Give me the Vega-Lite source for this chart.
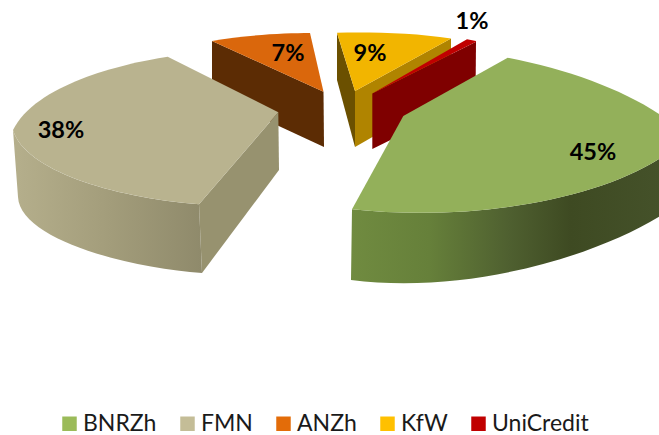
{
"$schema":"https://vega.github.io/schema/vega-lite/v6.json",
"width":659,"height":435,"padding":0,"autosize":{"type":"none"},
"background":"white",
"config":{"view":{"stroke":null}},
"data":{"values":[
{"name":"BNRZh","share":0.45},
{"name":"FMN","share":0.38},
{"name":"ANZh","share":0.07},
{"name":"KfW","share":0.09},
{"name":"UniCredit","share":0.01}
]},
"resolve":{"scale":{"shape":"independent","fill":"independent","color":"independent","x":"independent","y":"independent"}},
"layer":[
{"mark":{"type":"point","filled":true,"size":0,"opacity":1},
 "encoding":{"color":{"field":"name","type":"nominal","scale":{"domain":["BNRZh","FMN","ANZh","KfW","UniCredit"],"range":["#9BBB59","#C4BD97","#E36C09","#FFC000","#C00000"]},
  "legend":{"title":null,"orient":"none","legendX":58,"legendY":412,"direction":"horizontal","symbolType":"square","symbolSize":210,"symbolOpacity":1,"symbolStrokeWidth":0,"labelFont":"Lato","labelFontSize":23,"labelColor":"#1a1a1a","labelOffset":2,"columnPadding":19,"labelLimit":200}}}},
{"transform":[{"filter":{"field":"name","oneOf":["ANZh","KfW"]}}],
 "mark":{"type":"point","filled":true,"size":4,"opacity":1,"strokeWidth":0},
 "encoding":{
  "shape":{"field":"name","type":"nominal","legend":null,"scale":{"domain":["ANZh","KfW"],"range":["M-117.5,-176.5L-6,-125.8L-5.5,-70.5L-117.5,-122.5Z","M7.5,-184.5L25.5,-126.5L25.5,-70.5L7.5,-137.5Z"]}},
  "fill":{"field":"name","type":"nominal","legend":null,"scale":{"domain":["ANZh","KfW"],"range":["#5C2C04","#6B5000"]}}}},
{"transform":[{"filter":{"field":"name","oneOf":["ANZh","KfW","UniCredit"]}}],
 "mark":{"type":"point","filled":true,"size":4,"opacity":1,"strokeWidth":0},
 "encoding":{
  "shape":{"field":"name","type":"nominal","legend":null,"scale":{"domain":["ANZh","KfW","UniCredit"],"range":["M-117.5,-176.5C-84.5,-182.5 -44.5,-184.5 -19.5,-184.5L-6,-125.8Z","M25.5,-126.5L121.5,-179L121.5,-125.5L25.5,-70.5Z","M42.8,-124L146.5,-175.8L146,-119.5L42.8,-68.5Z"]}},
  "fill":{"field":"name","type":"nominal","legend":null,"scale":{"domain":["ANZh","KfW","UniCredit"],"range":["#DA670C","#B08400","#7F0000"]}},
  "order":{"field":"share","sort":"descending"}}},
{"transform":[{"filter":{"field":"name","oneOf":["KfW","UniCredit"]}}],
 "mark":{"type":"point","filled":true,"size":4,"opacity":1,"strokeWidth":0},
 "encoding":{
  "shape":{"field":"name","type":"nominal","legend":null,"scale":{"domain":["KfW","UniCredit"],"range":["M7.5,-184.8C45.5,-185.5 85.5,-184.5 121.5,-179L25.5,-126.5Z","M42.8,-124L137.5,-178.2L146.5,-176.5L146.5,-175.8Z"]}},
  "fill":{"field":"name","type":"nominal","legend":null,"scale":{"domain":["KfW","UniCredit"],"range":["#F2B500","#C00000"]}}}},
{"transform":[{"filter":{"field":"name","equal":"FMN"}}],
 "mark":{"type":"point","filled":true,"size":4,"opacity":1,"strokeWidth":0,"fill":"#97926F","shape":"M-51.2,-105.2L-50.5,-47.5L-127.5,55.5L-130.5,-13.2Z"}},
{"transform":[{"filter":{"field":"name","equal":"FMN"}}],
 "mark":{"type":"point","filled":true,"size":4,"opacity":1,"strokeWidth":0,
  "fill":{"gradient":"linear","x1":0,"x2":1,"y1":0,"y2":0,"stops":[{"offset":0,"color":"#B5AF8C"},{"offset":0.5,"color":"#A39D7B"},{"offset":1,"color":"#8F8A6B"}]},
  "shape":"M-316.5,-87.5C-304.5,-47.5 -219.5,-20.5 -130.5,-13.2L-127.5,55.5C-199.5,50.5 -309.5,22.5 -311.5,-20.5Z"}},
{"transform":[{"filter":{"field":"name","equal":"FMN"}}],
 "mark":{"type":"point","filled":true,"size":4,"opacity":1,"strokeWidth":0,"fill":"#B9B38F",
  "shape":"M-161.8,-160.8C-209.5,-153.5 -294.5,-132.5 -316.5,-87.5C-304.5,-47.5 -219.5,-20.5 -130.5,-13.2L-51.2,-105.2Z"}},
{"transform":[{"filter":{"field":"name","equal":"BNRZh"}}],
 "mark":{"type":"point","filled":true,"size":4,"opacity":1,"strokeWidth":0,
  "fill":{"gradient":"linear","x1":0,"x2":1,"y1":0,"y2":0,"stops":[{"offset":0,"color":"#708B40"},{"offset":0.25,"color":"#66803A"},{"offset":0.5,"color":"#4F6030"},{"offset":0.7,"color":"#3E4A22"},{"offset":1,"color":"#45522A"}]},
  "shape":"M22.5,-8.2C140.5,4.5 270.5,-17.5 335.5,-62.5L335.5,-4.5C270.5,37.5 140.5,77.5 21.5,62.5Z"}},
{"transform":[{"filter":{"field":"name","equal":"BNRZh"}}],
 "mark":{"type":"point","filled":true,"size":4,"opacity":1,"strokeWidth":0,"fill":"#93B05A",
  "shape":"M73.8,-101.5L178.2,-159.8C240.5,-147.5 295.5,-127.5 335.5,-99.5L335.5,-62.5C270.5,-17.5 140.5,4.5 22.5,-8.2Z"}},
{"mark":{"type":"text","font":"Lato","fontWeight":"bold","fontSize":23.5,"color":"#000000","align":"center","baseline":"middle"},
 "encoding":{
  "text":{"field":"share","type":"quantitative","format":".0%"},
  "x":{"field":"share","type":"quantitative","axis":null,"scale":{"domain":[0.01,0.07,0.09,0.38,0.45],"range":[472,288,370,61,593],"nice":false,"zero":false}},
  "y":{"field":"share","type":"quantitative","axis":null,"scale":{"domain":[0.01,0.07,0.09,0.38,0.45],"range":[22,54,54,131,153],"nice":false,"zero":false}}}}
]
}
